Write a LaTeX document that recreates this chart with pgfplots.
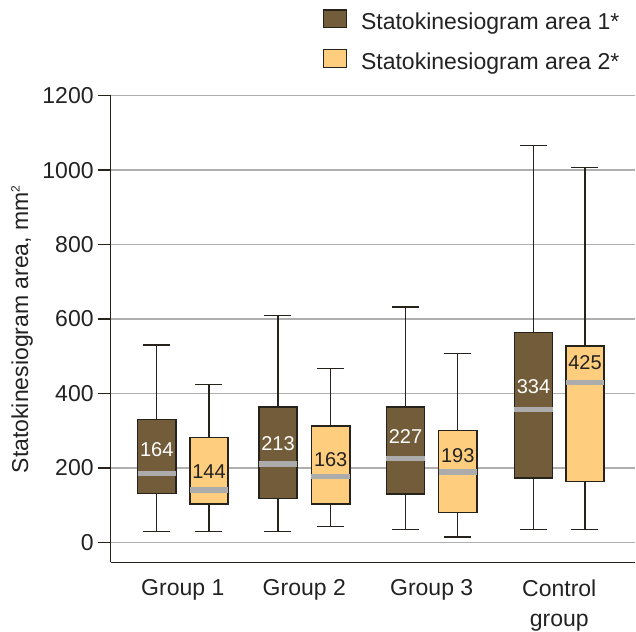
\documentclass[border=0pt]{standalone}
\usepackage{fontspec}
\setmainfont{Liberation Sans}
\usepackage{pgfplots}
\pgfplotsset{compat=1.18}
\usepgfplotslibrary{statistics}
\definecolor{darkbox}{RGB}{115,92,57}
\definecolor{lightbox}{RGB}{254,205,125}
\definecolor{edge}{RGB}{38,34,28}
\definecolor{gridc}{RGB}{175,175,175}
\definecolor{medc}{RGB}{172,172,172}
\definecolor{txt}{RGB}{34,34,34}
\begin{document}
\begin{tikzpicture}
\useasboundingbox (-83.03pt,-52.28pt) rectangle (393.98pt,421.73pt);
\begin{axis}[
  at={(0,0)}, anchor=south west,
  scale only axis, width=393.2pt, height=349.95pt,
  xmin=110.7, xmax=635, ymin=-53.7, ymax=1200,
  axis lines=left,
  x axis line style={-, edge, line width=1.1pt},
  y axis line style={-, edge, line width=1.1pt},
  ytick={0,200,...,1200},
  ymajorgrids, grid style={gridc, line width=1.1pt},
  xtick={182.8,304.3,431.7,559.3},
  xticklabels={Group 1, Group 2, Group 3, {Control\\group}},
  xticklabel style={align=center, text=txt},
  yticklabel style={text=txt},
  xtick style={draw=none},
  ytick style={edge, line width=1.1pt},
  tick align=outside, major tick length=9.3pt,
  tick label style={font=\fontsize{17.25}{22.5}\selectfont},
  /pgf/number format/assume math mode=true,
  /pgf/number format/1000 sep={},
  ylabel={Statokinesiogram area, mm\textsuperscript{\fontsize{9}{9}\selectfont 2}},
  ylabel style={at={(axis description cs:-0.169,0.5)}, anchor=center, font=\fontsize{17.25}{20}\selectfont, text=txt},
  legend style={at={(axis description cs:0.4044,1.186)}, anchor=north west, draw=none, fill=none,
     inner sep=0pt, row sep=10.4pt, column sep=10.2pt,
     font=\fontsize{17.25}{20}\selectfont, text=txt,
     nodes={inner sep=0pt, text height=11.25pt, text depth=4pt}},
  legend cell align=left,
  boxplot/draw direction=y,
  boxplot/every median/.style={draw=medc, line width=4pt},
  boxplot/every whisker/.style={draw=edge, line width=0.9pt},
  boxplot/every box/.style={draw=edge, line width=1.1pt},
]
\addlegendimage{legend image code/.code={\draw[draw=edge, fill=darkbox, line width=1.1pt] (0pt,-1.95pt) rectangle (17.25pt,11.25pt);}}
\addlegendentry{Statokinesiogram area 1*}
\addlegendimage{legend image code/.code={\draw[draw=edge, fill=lightbox, line width=1.1pt] (0pt,-1.95pt) rectangle (17.25pt,11.25pt);}}
\addlegendentry{Statokinesiogram area 2*}

% Group 1
\addplot[fill=darkbox, draw=edge, boxplot prepared={draw position=156.7, box extend=38.4, whisker extend=27,
  lower whisker=28.5, lower quartile=130.6, median=184, upper quartile=330.5, upper whisker=530}] coordinates {};
\addplot[fill=lightbox, draw=edge, boxplot prepared={draw position=209, box extend=38.4, whisker extend=27,
  lower whisker=28.5, lower quartile=103, median=140.5, upper quartile=281, upper whisker=425}] coordinates {};
% Group 2
\addplot[fill=darkbox, draw=edge, boxplot prepared={draw position=278, box extend=38.4, whisker extend=27,
  lower whisker=28.5, lower quartile=118, median=210, upper quartile=363.5, upper whisker=610}] coordinates {};
\addplot[fill=lightbox, draw=edge, boxplot prepared={draw position=330.7, box extend=38.4, whisker extend=27,
  lower whisker=42, lower quartile=103, median=177, upper quartile=312.5, upper whisker=466}] coordinates {};
% Group 3
\addplot[fill=darkbox, draw=edge, boxplot prepared={draw position=405.5, box extend=38.4, whisker extend=27,
  lower whisker=35, lower quartile=130, median=224.7, upper quartile=364, upper whisker=632}] coordinates {};
\addplot[fill=lightbox, draw=edge, boxplot prepared={draw position=457.8, box extend=38.4, whisker extend=27,
  lower whisker=14.3, lower quartile=80.6, median=189, upper quartile=301, upper whisker=507}] coordinates {};
% Control
\addplot[fill=darkbox, draw=edge, boxplot prepared={draw position=533.5, box extend=38.4, whisker extend=27,
  lower whisker=35, lower quartile=172.7, median=356, upper quartile=564, upper whisker=1065.6}] coordinates {};
\addplot[fill=lightbox, draw=edge, boxplot prepared={draw position=585, box extend=38.4, whisker extend=27,
  lower whisker=35, lower quartile=164, median=430, upper quartile=527, upper whisker=1006.6}] coordinates {};

% value labels
\addplot[draw=none, mark=none, nodes near coords, point meta=explicit symbolic,
  nodes near coords style={anchor=center, text=white, font=\fontsize{15}{15}\selectfont}]
  coordinates {(156.7,248)[164] (278,266)[213] (405.5,284)[227] (533.5,418)[334]};
\addplot[draw=none, mark=none, nodes near coords, point meta=explicit symbolic,
  nodes near coords style={anchor=center, text=txt, font=\fontsize{15}{15}\selectfont}]
  coordinates {(209,190)[144] (330.7,223)[163] (457.8,232)[193] (585,483.6)[425]};
\end{axis}
\end{tikzpicture}
\end{document}
